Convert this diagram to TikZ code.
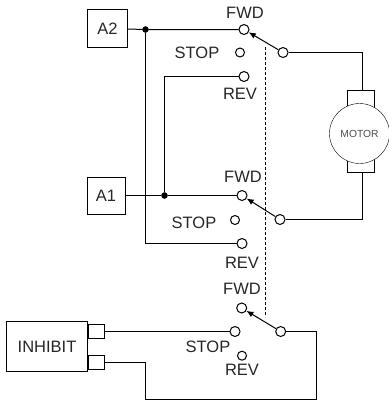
\documentclass[tikz,border=0pt]{standalone}
\usepackage{fontspec}
\setmainfont{Liberation Sans}
\usetikzlibrary{arrows.meta,calc}
\tikzset{
  contact/.style={circle,draw=black,fill=white,inner sep=0pt,minimum size=10pt,line width=1pt},
  smallcontact/.style={circle,draw=black,fill=white,inner sep=0pt,minimum size=9pt,line width=1pt},
  junction/.style={circle,draw=black,fill=black,inner sep=0pt,minimum size=6pt},
  box/.style={draw=black,line width=1pt,inner sep=0pt,fill=white},
  lbl/.style={inner sep=0pt,font=\fontsize{16.5}{16.5}\selectfont,text=black!85},
  wire/.style={black,line width=1pt},
  blade/.style={black,line width=1pt,-{Latex[length=7pt,width=6pt]}}
}
\begin{document}
\begin{tikzpicture}[x=1pt,y=-1pt]
\useasboundingbox (0,0) rectangle (389,400);
% boxes
\node[box,minimum width=40pt,minimum height=38pt,lbl] (a2) at (107.5,28.5) {A2};
\node[box,minimum width=38pt,minimum height=37pt,lbl] (a1) at (106,195.5) {A1};
\node[box,minimum width=81pt,minimum height=50pt,lbl] (inhibit) at (47,346.5) {INHIBIT};
\node[box,minimum width=16pt,minimum height=14pt] (tabone) at (96,331.5) {};
\node[box,minimum width=16pt,minimum height=14pt] (tabtwo) at (96,362.5) {};
% contacts
\node[contact] (fwdone) at (244,29.5) {};
\node[smallcontact] (stopone) at (240,52.5) {};
\node[contact] (revone) at (244,76.5) {};
\node[contact] (pivotone) at (283,52.5) {};
\node[contact] (fwdtwo) at (242,195.5) {};
\node[smallcontact] (stoptwo) at (235,220) {};
\node[contact] (revtwo) at (242,243.5) {};
\node[contact] (pivottwo) at (280,219.5) {};
\node[contact] (fwdthree) at (241.7,308) {};
\node[contact] (stopthree) at (235,331.5) {};
\node[smallcontact] (revthree) at (242,355.7) {};
\node[contact] (pivotthree) at (280.7,331.5) {};
% labels
\node[lbl] at (245,13) {FWD};
\node[lbl] at (197,53) {STOP};
\node[lbl] at (240,94) {REV};
\node[lbl] at (243,177) {FWD};
\node[lbl] at (194,223) {STOP};
\node[lbl] at (242,263) {REV};
\node[lbl] at (242,289) {FWD};
\node[lbl] at (208,347) {STOP};
\node[lbl] at (242,370) {REV};
% junctions
\node[junction] (jtop) at (145.5,29.5) {};
\node[junction] (jmid) at (164.5,195.5) {};
% motor
\node[box,minimum width=27pt,minimum height=18pt] (brushtop) at (360.5,99) {};
\node[box,minimum width=27pt,minimum height=18pt] (brushbot) at (360.5,163) {};
\node[circle,draw=black,fill=white,inner sep=0pt,minimum size=60pt,font=\fontsize{10.3}{10.3}\selectfont,text=black!70] (motor) at (359.5,133.5) {MOTOR};
% wires
\coordinate (cnrtop) at (145.5,243.5);
\coordinate (cnrrev) at (164.5,76.5);
\coordinate (cnrmotor) at (362.5,52.5);
\coordinate (cnrmotorb) at (362.5,219.5);
\coordinate (cnrinh) at (145.5,362.5);
\coordinate (cnrbot) at (145.5,399);
\coordinate (cnrbotr) at (316.5,399);
\coordinate (cnrpiv) at (316.5,331.5);
\coordinate (gangtop) at (265.5,47);
\coordinate (gangbot) at (265.5,317);
\draw[wire] (a2) -- (jtop) -- (fwdone);
\draw[wire] (jtop) -- (cnrtop) -- (revtwo);
\draw[wire] (a1) -- (jmid) -- (fwdtwo);
\draw[wire] (jmid) -- (cnrrev) -- (revone);
\draw[wire] (pivotone) -- (cnrmotor) -- (brushtop.north -| cnrmotor);
\draw[wire] (pivottwo) -- (cnrmotorb) -- (brushbot.south -| cnrmotorb);
\draw[wire] (tabone) -- (stopthree);
\draw[wire] (tabtwo) -- (cnrinh) -- (cnrbot) -- (cnrbotr) -- (cnrpiv) -- (pivotthree);
\draw[black,line width=1pt,dash pattern=on 3pt off 2pt] (gangtop) -- (gangbot);
\draw[blade] (pivotone) -- (fwdone);
\draw[blade] (pivottwo) -- (fwdtwo);
\draw[blade] (pivotthree) -- (fwdthree);
\end{tikzpicture}
\end{document}
